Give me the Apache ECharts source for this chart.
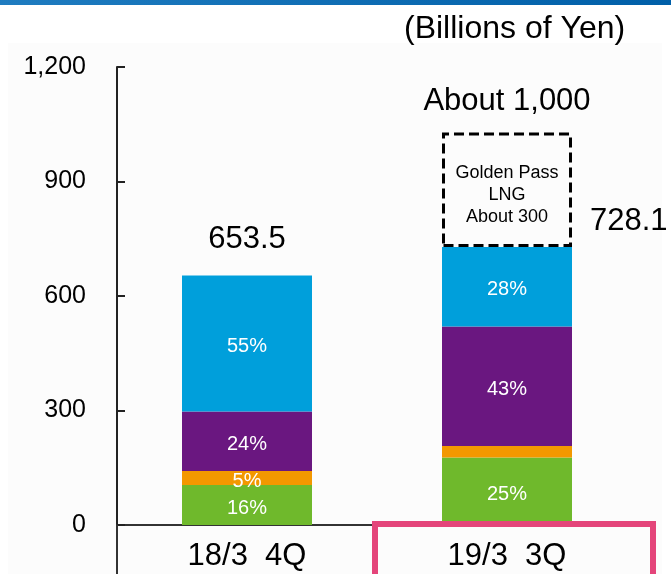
<!DOCTYPE html>
<html>
<head>
<meta charset="utf-8">
<script src="https://cdn.jsdelivr.net/npm/echarts@6/dist/echarts.min.js"></script>
<style>
html,body{margin:0;padding:0;background:#fff;}
#chart{width:671px;height:574px;}
</style>
</head>
<body>
<div id="chart"></div>
<script>
var categories = ['18/3  4Q', '19/3  3Q'];
var greenVals = [104.6, 177];
var orangeVals = [37, 30];
var purpleVals = [156, 313];
var blueVals = [355.9, 208.1];
var goldenPassVals = [null, 300];
var greenPct = ['16%', '25%'];
var orangePct = ['5%', ''];
var purplePct = ['24%', '43%'];
var bluePct = ['55%', '28%'];
var totals = [653.5, 728.1];
var totalLabels = ['653.5', '728.1'];
var plannedTotal = 1028.1;
var plannedLabel = 'About 1,000';
var goldenPassLabel = 'Golden Pass\nLNG\nAbout 300';
var yTicks = [0, 300, 600, 900, 1200];
var unitLabel = '(Billions of Yen)';

var FONT = '"Liberation Sans", Arial, sans-serif';
var chart = echarts.init(document.getElementById('chart'), null, {renderer: 'canvas'});

function pctLabel(arr) {
  return {
    show: true, position: 'inside', color: '#fff', fontSize: 20, fontFamily: FONT,
    offset: [0, 3],
    formatter: function (p) { return arr[p.dataIndex]; }
  };
}

function seg(name, vals, color, pcts) {
  return {
    name: name, type: 'bar', stack: 'total', barWidth: 130, data: vals,
    itemStyle: {color: color}, label: pctLabel(pcts), z: 2
  };
}

var bigText = {fontSize: 31, color: '#000', fontFamily: FONT};

var option = {
  animation: false,
  backgroundColor: '#ffffff',
  grid: {left: 117, right: 34, top: 67, bottom: 49, containLabel: false},
  xAxis: {
    type: 'category', data: categories,
    axisLine: {show: true, lineStyle: {color: '#333', width: 2}},
    axisTick: {show: false},
    axisLabel: {fontSize: 31, color: '#000', fontFamily: FONT, margin: 16},
    splitLine: {show: false}
  },
  yAxis: {
    type: 'value', min: yTicks[0], max: yTicks[yTicks.length - 1], interval: 300,
    axisLine: {show: true, lineStyle: {color: '#222', width: 2}},
    axisTick: {show: true, inside: true, length: 8, lineStyle: {color: '#222', width: 2}},
    axisLabel: {fontSize: 25, color: '#000', fontFamily: FONT, margin: 31,
      formatter: function (v) { return v.toLocaleString('en-US'); }},
    splitLine: {show: false}
  },
  graphic: [
    {type: 'rect', z: -10, silent: true, shape: {x: 8, y: 43, width: 654, height: 540},
      style: {fill: '#fcfcfc'}},
    {type: 'rect', z: 100, silent: true, shape: {x: 0, y: 0, width: 671, height: 5},
      style: {fill: new echarts.graphic.LinearGradient(0, 0, 1, 0, [
        {offset: 0, color: '#1f7cc0'}, {offset: 1, color: '#005fa8'}])}},
    {type: 'line', z: 100, silent: true, shape: {x1: 117, y1: 525, x2: 117, y2: 574},
      style: {stroke: '#333', lineWidth: 2}},
    {type: 'rect', z: 100, silent: true, shape: {x: 375, y: 524, width: 278, height: 70},
      style: {fill: 'rgba(0,0,0,0)', stroke: '#e4457a', lineWidth: 6}},
    {type: 'text', z: 100, silent: true, left: 404, top: 13,
      style: {text: unitLabel, font: '32px ' + FONT, fill: '#000'}}
  ],
  series: [
    seg('green', greenVals, '#6fb92c', greenPct),
    seg('orange', orangeVals, '#f39800', orangePct),
    seg('purple', purpleVals, '#6a1780', purplePct),
    seg('blue', blueVals, '#009fdb', bluePct),
    {
      name: 'goldenPass', type: 'bar', stack: 'total', barWidth: 130, data: goldenPassVals, z: 3,
      itemStyle: {color: 'rgba(255,255,255,0)', borderColor: '#000', borderWidth: 3, borderType: [10, 5]},
      label: {show: true, position: 'inside', color: '#000', fontSize: 18, lineHeight: 22,
        fontFamily: FONT, formatter: goldenPassLabel, offset: [0, 5]}
    },
    {
      name: 'totals', type: 'scatter', symbolSize: 0, z: 5,
      itemStyle: {color: '#000', opacity: 1},
      data: [
        {value: [0, totals[0]], label: Object.assign({show: true, position: 'top', distance: 21,
          formatter: totalLabels[0]}, bigText)},
        {value: [1, totals[1]], label: Object.assign({show: true, position: 'right', distance: 83, offset: [0, -26],
          formatter: totalLabels[1]}, bigText)},
        {value: [1, plannedTotal], label: Object.assign({show: true, position: 'top', distance: 16,
          formatter: plannedLabel}, bigText)}
      ]
    }
  ]
};
chart.setOption(option);
</script>
</body>
</html>
